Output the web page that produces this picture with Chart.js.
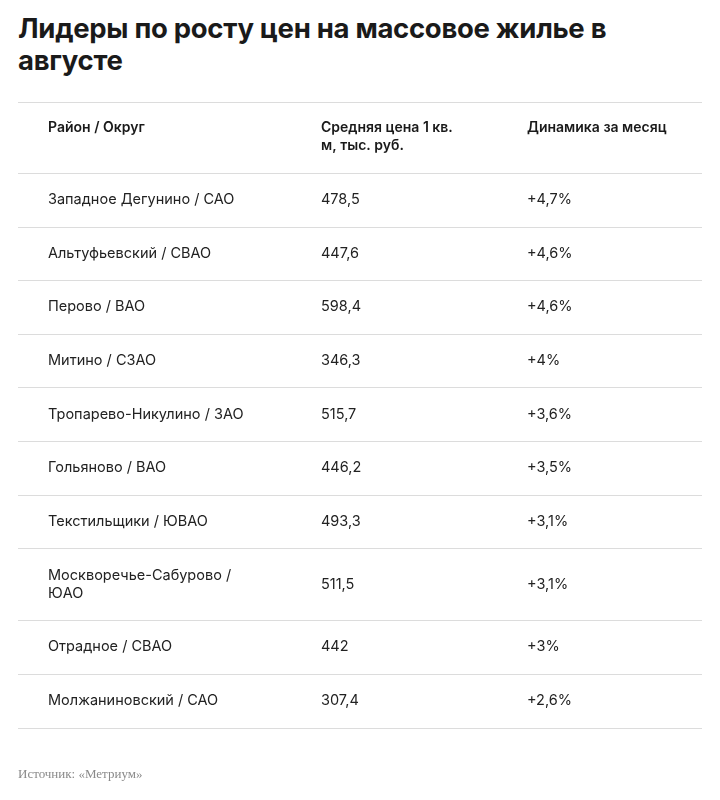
<!DOCTYPE html>
<html><head><meta charset="utf-8">
<script src="https://cdn.jsdelivr.net/npm/chart.js@4"></script>
<style>
body{margin:0;background:#fff;font-family:Inter,Roboto,sans-serif;}
#t{position:absolute;left:18px;top:12px;margin:0;font-size:27.5px;line-height:32px;font-weight:700;color:#1a1a1a;width:680px;letter-spacing:-0.3px}
#s{position:absolute;left:18px;top:766px;margin:0;font-size:13px;color:#8a8a8a;font-family:"Liberation Serif",serif}
#c{position:absolute;left:0;top:0}
</style></head><body>
<h1 id="t">Лидеры по росту цен на массовое жилье в августе</h1>
<canvas id="c" width="720" height="800"></canvas>
<p id="s">Источник: «Метриум»</p>
<script>
const headers=[["Район / Округ"],["Средняя цена 1 кв.","м, тыс. руб."],["Динамика за месяц"]];
const districts=[["Западное Дегунино / САО"],["Альтуфьевский / СВАО"],["Перово / ВАО"],["Митино / СЗАО"],["Тропарево-Никулино / ЗАО"],["Гольяново / ВАО"],["Текстильщики / ЮВАО"],["Москворечье-Сабурово /","ЮАО"],["Отрадное / СВАО"],["Молжаниновский / САО"]];
const prices=["478,5","447,6","598,4","346,3","515,7","446,2","493,3","511,5","442","307,4"];
const changes=["+4,7%","+4,6%","+4,6%","+4%","+3,6%","+3,5%","+3,1%","+3,1%","+3%","+2,6%"];
const colX=[48,321,527];
const tableTop=102, headerH=71, rowH=53.6, extraLine=18.5, lineH=18;
const tablePlugin={id:'tbl',afterDraw(ch){
  const c=ch.ctx,xs=ch.scales.x,ys=ch.scales.y;
  const L=xs.getPixelForValue(18),R=xs.getPixelForValue(702);
  const rule=y=>{c.strokeStyle='#dcdcdc';c.lineWidth=1;c.beginPath();c.moveTo(L,Math.round(ys.getPixelForValue(y))+0.5);c.lineTo(R,Math.round(ys.getPixelForValue(y))+0.5);c.stroke();};
  c.save();c.textBaseline='top';c.fillStyle='#1a1a1a';
  rule(tableTop);
  c.font='600 14px Inter, Roboto, sans-serif';
  headers.forEach((h,i)=>h.forEach((t,j)=>c.fillText(t,xs.getPixelForValue(colX[i]),ys.getPixelForValue(tableTop+19+j*lineH))));
  let y=tableTop+headerH;rule(y);
  c.font='14.5px Inter, Roboto, sans-serif';c.fillStyle='#222';c.textBaseline='middle';
  districts.forEach((d,i)=>{
    const h=rowH+(d.length-1)*extraLine, mid=y+h/2, top=mid-(d.length-1)*lineH/2;
    d.forEach((t,j)=>c.fillText(t,xs.getPixelForValue(colX[0]),ys.getPixelForValue(top+j*lineH)));
    c.fillText(prices[i],xs.getPixelForValue(colX[1]),ys.getPixelForValue(mid));
    c.fillText(changes[i],xs.getPixelForValue(colX[2]),ys.getPixelForValue(mid));
    y+=h;rule(y);
  });
  c.restore();
}};
new Chart(document.getElementById('c'),{type:'scatter',data:{datasets:[{data:[]}]},
options:{responsive:false,animation:false,devicePixelRatio:1,layout:{padding:0},
plugins:{legend:{display:false},tooltip:{enabled:false}},
scales:{x:{type:'linear',min:0,max:720,display:false},y:{type:'linear',min:0,max:800,reverse:true,display:false}}},
plugins:[tablePlugin]});
</script></body></html>
